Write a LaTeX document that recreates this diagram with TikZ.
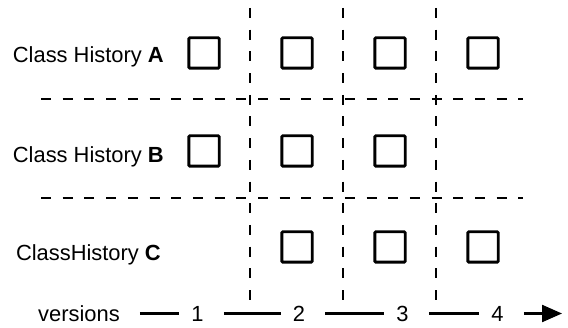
\documentclass[tikz,border=0pt]{standalone}
\usepackage{fontspec}
\setmainfont{Liberation Sans}
\usetikzlibrary{arrows.meta, positioning}

\tikzset{
  version/.style={draw, line width=2.8pt, rounded corners=1pt, minimum size=30.3pt, inner sep=0pt},
  grid/.style={dash pattern=on 10pt off 11.7pt, line width=2.4pt},
  axis/.style={line width=2.3pt, shorten <=20pt, shorten >=12pt}
}

\begin{document}
\begin{tikzpicture}[x=1pt, y=-1pt, every node/.style={font=\fontsize{21.9}{24}\selectfont, text height=15.7pt, text depth=0pt, inner sep=0pt}]
	\useasboundingbox (0,0) rectangle (568,328);
	% Dashed grid
	\foreach \x in {250,343,436}
		\draw[grid] (\x,8) -- (\x,303);
	\foreach \y in {99,198}
		\draw[grid] (41,\y) -- (523,\y);
	% Class histories
	\node[anchor=east] (labA) at (164,54.5) {Class History \textbf{A}};
	\node[anchor=east] (labB) at (164,154.5) {Class History \textbf{B}};
	\node[anchor=east] (labC) at (161,252.5) {ClassHistory \textbf{C}};
	\foreach \n/\x/\y in {a1/204/53, a2/297/53, a3/390/53, a4/483/53,
		b1/204/151, b2/297/151, b3/390/151,
		c2/297/247, c3/390/247, c4/483/247}
		\node[version] (\n) at (\x,\y) {};
	% Version axis
	\node (versions) at (79,313.5) {versions};
	\node (v1) at (197.5,313.5) {1};
	\node (v2) at (299,313.5) {2};
	\node (v3) at (402.5,313.5) {3};
	\node (v4) at (497.5,313.5) {4};
	\coordinate (tip) at (562,313.5);
	\draw[axis] (versions) -- (v1);
	\draw[axis] (v1) -- (v2);
	\draw[axis] (v2) -- (v3);
	\draw[axis] (v3) -- (v4);
	\draw[axis, shorten >=0pt, -{Triangle[length=20pt,width=17pt]}] (v4) -- (tip);
\end{tikzpicture}
\end{document}
